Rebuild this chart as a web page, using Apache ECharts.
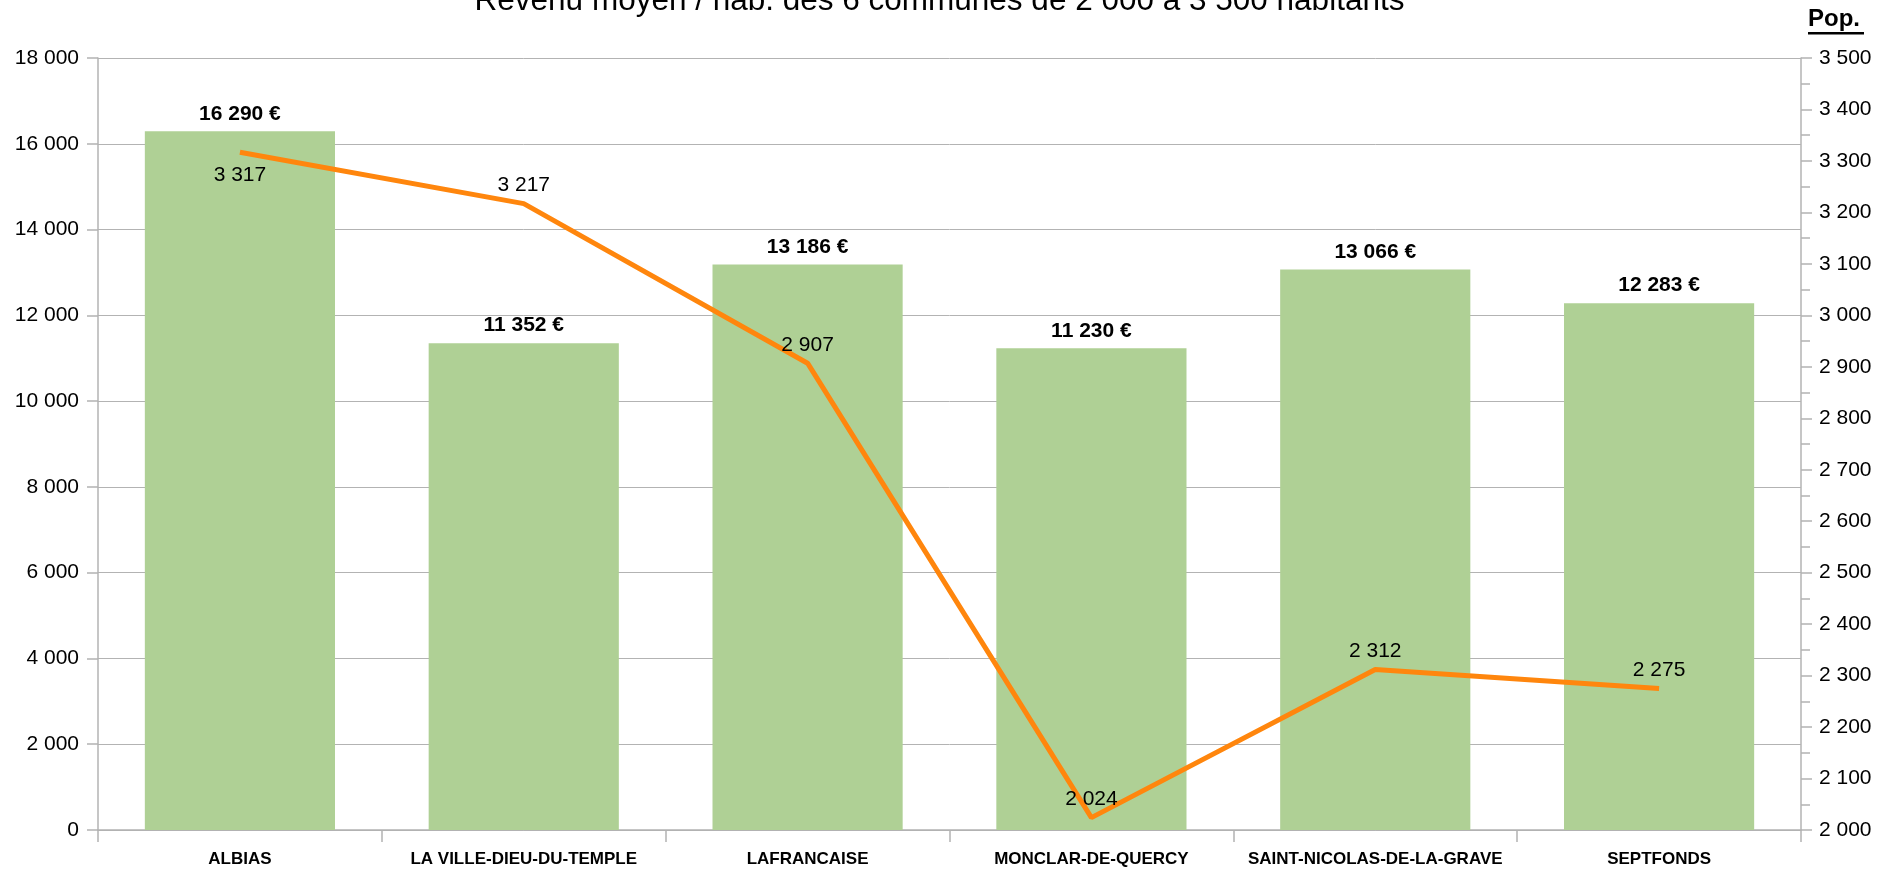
<!DOCTYPE html>
<html>
<head>
<meta charset="utf-8">
<script src="https://cdn.jsdelivr.net/npm/echarts@6/dist/echarts.min.js"></script>
<style>
  html, body { margin: 0; padding: 0; background: #fff; }
  #chart { width: 1879px; height: 870px; }
</style>
</head>
<body>
<div id="chart"></div>
<script>
const communes = ['ALBIAS', 'LA VILLE-DIEU-DU-TEMPLE', 'LAFRANCAISE', 'MONCLAR-DE-QUERCY', 'SAINT-NICOLAS-DE-LA-GRAVE', 'SEPTFONDS'];
const revenu = [16290, 11352, 13186, 11230, 13066, 12283];
const population = [3317, 3217, 2907, 2024, 2312, 2275];

// séparateur de milliers "espace"
function fmt(v) {
  return String(v).replace(/\B(?=(\d{3})+(?!\d))/g, ' ');
}

const chart = echarts.init(document.getElementById('chart'));
const font = 'Liberation Sans, Arial, sans-serif';
const grey = '#b3b3b3';

const option = {
  animation: false,
  textStyle: { fontFamily: font },
  title: {
    text: 'Revenu moyen / hab. des 6 communes de 2 000 à 3 500 habitants',
    left: 'center',
    top: -20,
    textStyle: { fontSize: 31.5, fontWeight: 'normal', color: '#000', fontFamily: font }
  },
  graphic: [
    {
      type: 'group',
      right: 15,
      top: 7,
      children: [
        { type: 'text', left: 0, top: 0, style: { text: 'Pop.', font: 'bold 24px Liberation Sans, Arial, sans-serif', fill: '#000' } },
        { type: 'rect', left: 0, top: 25, shape: { width: 56, height: 2.5 }, style: { fill: '#000' } }
      ]
    }
  ],
  grid: { left: 98, right: 78, top: 58, bottom: 40, containLabel: false },
  xAxis: {
    type: 'category',
    data: communes,
    axisLine: { lineStyle: { color: grey, width: 1.5 } },
    axisTick: { show: true, length: 12, lineStyle: { color: grey, width: 1.5 } },
    axisLabel: { margin: 21, fontSize: 17, fontWeight: 'bold', color: '#000', fontFamily: font, interval: 0 }
  },
  yAxis: [
    {
      type: 'value',
      min: 0,
      max: 18000,
      interval: 2000,
      axisLine: { show: true, lineStyle: { color: grey, width: 1.5 } },
      axisTick: { show: true, length: 11, lineStyle: { color: grey, width: 1.5 } },
      splitLine: { lineStyle: { color: grey, width: 1 } },
      axisLabel: { margin: 19, fontSize: 21, color: '#000', fontFamily: font, formatter: fmt }
    },
    {
      type: 'value',
      min: 2000,
      max: 3500,
      interval: 100,
      position: 'right',
      axisLine: { show: true, lineStyle: { color: grey, width: 1.5 } },
      axisTick: { show: true, length: 11, lineStyle: { color: grey, width: 1.5 } },
      minorTick: { show: true, splitNumber: 2, length: 9, lineStyle: { color: grey, width: 1.5 } },
      splitLine: { show: false },
      axisLabel: { margin: 18, fontSize: 21, color: '#000', fontFamily: font, formatter: fmt }
    }
  ],
  series: [
    {
      name: 'Revenu',
      type: 'bar',
      data: revenu,
      barCategoryGap: '33%',
      itemStyle: { color: '#afd095' },
      label: {
        show: true,
        position: 'top',
        distance: 7,
        fontSize: 21,
        fontWeight: 'bold',
        color: '#000',
        fontFamily: font,
        formatter: p => fmt(p.value) + ' €'
      }
    },
    {
      name: 'Pop.',
      type: 'line',
      yAxisIndex: 1,
      data: population.map((v, i) => ({
        value: v,
        label: i === 0 ? { position: 'bottom', distance: 12 } : { position: 'top', distance: 7 }
      })),
      symbol: 'circle',
      symbolSize: 1,
      showSymbol: true,
      lineStyle: { color: '#ff860d', width: 5 },
      itemStyle: { color: 'rgba(0,0,0,0)', borderWidth: 0 },
      label: {
        show: true,
        fontSize: 21,
        color: '#000',
        fontFamily: font,
        formatter: p => fmt(p.value)
      },
      z: 5
    }
  ]
};
chart.setOption(option);
</script>
</body>
</html>
